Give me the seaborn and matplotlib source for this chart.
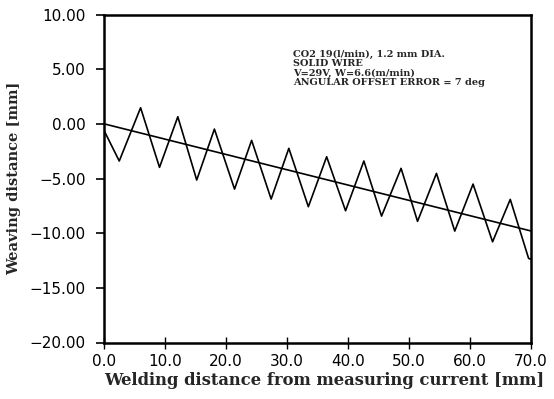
import matplotlib
matplotlib.use("Agg")
import matplotlib.pyplot as plt
import seaborn as sns
import pandas as pd

# Weaving trace: extrema (x in mm, y in mm)
wave_x = [0.0, 2.5, 6.0, 9.1, 12.1, 15.2, 18.1, 21.4, 24.2, 27.4, 30.3,
          33.5, 36.5, 39.6, 42.6, 45.5, 48.7, 51.4, 54.5, 57.5, 60.5,
          63.7, 66.6, 69.6, 70.0]
wave_y = [-0.6, -3.40, 1.47, -3.98, 0.65, -5.14, -0.48, -5.97, -1.51, -6.88,
          -2.24, -7.58, -3.01, -7.95, -3.40, -8.44, -4.07, -8.92, -4.53,
          -9.81, -5.51, -10.79, -6.91, -12.3, -12.4]

# Offset line
line_x = [0.0, 70.0]
line_y = [0.0, -9.8]

xticks = [0, 10, 20, 30, 40, 50, 60, 70]
yticks = [10, 5, 0, -5, -10, -15, -20]

annotation = ["CO2 19(l/min), 1.2 mm DIA.",
              "SOLID WIRE",
              "V=29V, W=6.6(m/min)",
              "ANGULAR OFFSET ERROR = 7 deg"]

sns.set_style("white")
plt.rcParams['font.family'] = ['DejaVu Sans']

fig = plt.figure(figsize=(5.54, 3.99), dpi=100)
ax = fig.add_axes([104 / 554, 1 - 342.5 / 399, (531 - 104) / 554, (342.5 - 14.5) / 399])

wave = pd.DataFrame({"x": wave_x, "y": wave_y})
line = pd.DataFrame({"x": line_x, "y": line_y})
sns.lineplot(data=wave, x="x", y="y", ax=ax, color="black", linewidth=1.2,
             estimator=None, sort=False)
sns.lineplot(data=line, x="x", y="y", ax=ax, color="black", linewidth=1.2,
             estimator=None, sort=False)

ax.set_xlim(0, 70)
ax.set_ylim(-20, 10)
ax.set_xticks(xticks)
ax.set_xticklabels([f"{v:.1f}" for v in xticks])
ax.set_yticks(yticks)
ax.set_yticklabels([f"{v:.2f}".replace("-", "\u2212") for v in yticks])

for s in ax.spines.values():
    s.set_linewidth(1.8)
    s.set_color("black")

ax.tick_params(axis="y", direction="out", length=6, width=1.2, pad=7,
               labelsize=11, colors="black", left=True)
ax.tick_params(axis="x", direction="inout", length=8, width=1.0, pad=4,
               labelsize=11, colors="black", bottom=True)

ax.set_xlabel("Welding distance from measuring current [mm]",
              family="DejaVu Serif", fontweight="bold", fontsize=11.8, labelpad=3)
ax.xaxis.set_label_coords(0.515, -0.09)
ax.set_ylabel("Weaving distance [mm]",
              family="DejaVu Serif", fontweight="bold", fontsize=10.5, labelpad=6)

ax.text(0.443, 0.892, "\n".join(annotation), transform=ax.transAxes,
        family="DejaVu Serif", fontweight="bold", fontsize=7.0,
        va="top", ha="left", linespacing=1.03)

fig.savefig("out.png", dpi=100)
